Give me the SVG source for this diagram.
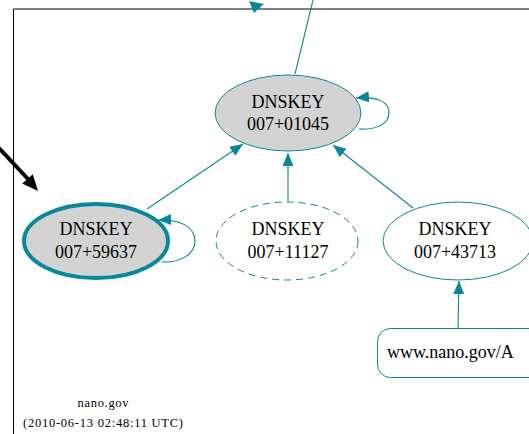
<svg xmlns="http://www.w3.org/2000/svg" width="529" height="434" viewBox="0 0 529 434">
  <style>
    .lbl { font-family: "Liberation Serif", "Times New Roman", serif; font-size: 18px; fill: #000; text-anchor: middle; }
    .foot { font-family: "Liberation Serif", "Times New Roman", serif; font-size: 12.5px; fill: #000; text-anchor: middle; }
    .key { stroke: #0a879a; stroke-width: 1; }
    .edge { fill: none; stroke: #0a879a; stroke-width: 1.1; }
  </style>
  <defs>
    <marker id="ah" markerUnits="userSpaceOnUse" markerWidth="16" markerHeight="12" refX="13" refY="5.5" orient="auto" viewBox="0 0 16 11">
      <path d="M0,0 L13,5.5 L0,11 z" fill="#0a879a"/>
    </marker>
  </defs>
  <rect width="529" height="434" fill="#fff"/>

  <!-- zone frame -->
  <path d="M13.5,434 V9 H529" fill="none" stroke="#000" stroke-width="1"/>

  <!-- connectors -->
  <g id="edges">
    <path class="edge" d="M295,74 L313,0"/>
    <polygon points="249,1 264,4 254,13" fill="#0a879a"/>
    <path class="edge" marker-end="url(#ah)" d="M147,209 L243,144"/>
    <path class="edge" marker-end="url(#ah)" d="M288,201 L288,153"/>
    <path class="edge" marker-end="url(#ah)" d="M413,208 L333,145"/>
    <path class="edge" marker-end="url(#ah)" d="M458,328 L459,281"/>
    <path class="edge" marker-end="url(#ah)" d="M359,129 C378,130 389,123 389,113 C389,102 378,96 356,98"/>
    <path class="edge" marker-end="url(#ah)" d="M162,262 C182,263 195,253 195,241 C195,229 184,219 158,220"/>
    <!-- trust anchor pointer -->
    <path d="M-2,147 L28,179" stroke="#000" stroke-width="4" fill="none"/>
    <polygon points="38,191 32.8,174.3 22.2,183.5" fill="#000"/>
  </g>

  <g id="dnskey-01045">
    <ellipse class="key" cx="288" cy="113" rx="73" ry="38" fill="#d3d3d3"/>
    <text class="lbl" x="288" y="108">DNSKEY</text>
    <text class="lbl" x="288" y="130">007+01045</text>
  </g>

  <g id="dnskey-59637">
    <ellipse cx="96" cy="241" rx="72" ry="37" fill="#d3d3d3" stroke="#0a879a" stroke-width="4"/>
    <text class="lbl" x="96" y="235">DNSKEY</text>
    <text class="lbl" x="96" y="258">007+59637</text>
  </g>

  <g id="dnskey-11127">
    <ellipse class="key" cx="287" cy="241" rx="71" ry="39" fill="#fff" stroke-dasharray="7,5"/>
    <text class="lbl" x="288" y="235">DNSKEY</text>
    <text class="lbl" x="288" y="258">007+11127</text>
  </g>

  <g id="dnskey-43713">
    <ellipse class="key" cx="458" cy="241" rx="75" ry="39" fill="#fff"/>
    <text class="lbl" x="455" y="235">DNSKEY</text>
    <text class="lbl" x="455" y="258">007+43713</text>
  </g>

  <g id="rrset-a">
    <rect class="key" x="377.5" y="328.5" width="170" height="49" rx="13" ry="13" fill="#fff"/>
    <text class="lbl" x="387" y="358" style="text-anchor:start">www.nano.gov/A</text>
  </g>

  <g id="zone-label">
    <text class="foot" x="103" y="407" textLength="51" lengthAdjust="spacing">nano.gov</text>
    <text class="foot" x="103" y="427" textLength="160" lengthAdjust="spacing">(2010-06-13 02:48:11 UTC)</text>
  </g>
</svg>
